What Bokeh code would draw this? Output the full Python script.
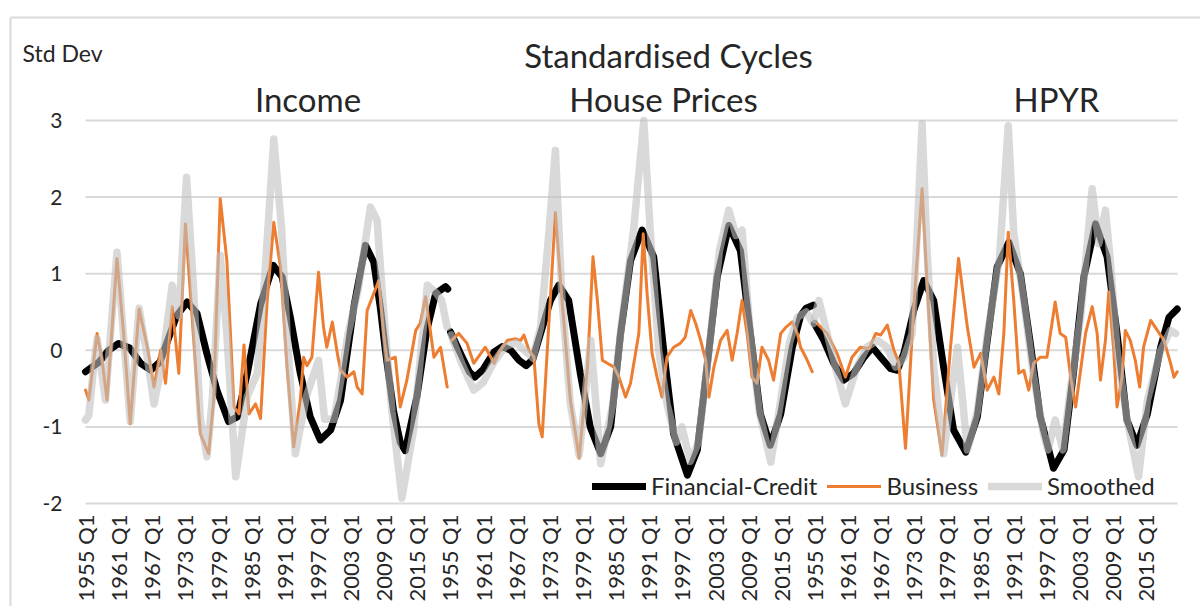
import numpy as np
from bokeh.plotting import figure
from bokeh.models import Range1d, Label, LabelSet, Legend, LegendItem, ColumnDataSource
from bokeh.core.properties import value
from bokeh.embed import file_html
from bokeh.resources import INLINE

# ---------------- data ----------------
PANEL_NAMES = ["Income", "House Prices", "HPYR"]
TICK_YEARS = [1955, 1961, 1967, 1973, 1979, 1985, 1991, 1997, 2003, 2009, 2015]
QUARTERS_PER_PANEL = 264   # 1955 Q1 .. 2020 Q4
START_YEAR = 1955
Y_TICKS = [-2, -1, 0, 1, 2, 3]
Y_LABELS = ["-2", "-1", "0", "1", "2", "3"]

# ---- Income ----
INC_FC_YR = [1955.0, 1957.5, 1959.2, 1961.0, 1963.0, 1965.0, 1966.8, 1968.5, 1970.0, 1971.5,
             1973.4, 1975.2, 1977.0, 1978.8, 1980.9, 1982.5, 1984.3, 1986.7, 1989.0, 1990.6,
             1992.1, 1993.9, 1995.7, 1997.5, 1999.4, 2001.2, 2003.6, 2005.7, 2007.2, 2008.4,
             2009.3, 2010.8, 2012.0, 2012.9, 2015.0, 2016.8, 2018.4, 2020.2, 2020.6]
INC_FC_VAL = [-0.28, -0.15, 0.0, 0.09, 0.03, -0.17, -0.26, -0.15, 0.15, 0.45,
              0.63, 0.48, -0.05, -0.52, -0.93, -0.87, -0.3, 0.6, 1.11, 0.96,
              0.43, -0.30, -0.87, -1.17, -1.04, -0.65, 0.57, 1.37, 1.15, 0.55,
              0.0, -0.8, -1.2, -1.31, -0.61, 0.26, 0.74, 0.83, 0.80]

INC_BUS_YR = [1955.0, 1955.6, 1957.1, 1958.0, 1958.9, 1960.7, 1961.9, 1963.1, 1964.7, 1966.2,
              1967.4, 1968.6, 1969.5, 1970.7, 1971.9, 1973.1, 1974.6, 1975.8, 1977.3, 1978.2,
              1979.4, 1980.6, 1981.9, 1982.8, 1983.7, 1984.6, 1985.8, 1986.7, 1987.9, 1989.1,
              1990.3, 1991.5, 1992.7, 1993.9, 1994.5, 1995.1, 1996.0, 1997.2, 1998.1, 1998.7,
              1999.7, 2000.6, 2001.2, 2002.4, 2003.6, 2004.2, 2005.1, 2006.0, 2007.2, 2008.1,
              2009.0, 2009.6, 2011.1, 2012.0, 2013.2, 2014.8, 2015.6, 2016.6, 2018.1, 2019.3,
              2020.5]
INC_BUS_VAL = [-0.52, -0.65, 0.22, -0.13, -0.65, 1.20, 0.22, -0.96, 0.54, 0.04,
               -0.48, 0.0, -0.43, 0.57, -0.30, 1.65, 0.13, -1.09, -1.35, -0.65,
               1.98, 1.17, -0.74, -0.83, 0.07, -0.83, -0.70, -0.89, 0.65, 1.67,
               1.09, -0.22, -1.26, -0.65, -0.09, -0.20, -0.09, 1.02, 0.30, 0.04,
               0.37, -0.04, -0.26, -0.35, -0.28, -0.48, -0.57, 0.52, 0.74, 0.91,
               0.22, -0.13, -0.09, -0.74, -0.39, 0.26, 0.35, 0.70, -0.09, 0.04,
               -0.48]

INC_SM_YR = [1955.0, 1955.6, 1956.5, 1957.1, 1958.6, 1960.7, 1963.1, 1964.7, 1966.0, 1967.4,
             1968.8, 1970.7, 1971.9, 1973.3, 1974.5, 1975.8, 1977.0, 1978.0, 1979.4, 1980.6,
             1982.2, 1983.5, 1984.3, 1986.1, 1987.5, 1989.1, 1990.5, 1991.5, 1993.0, 1995.0,
             1997.2, 1998.3, 2000.0, 2001.2, 2002.5, 2004.4, 2006.6, 2007.8, 2009.0, 2010.5,
             2012.3, 2014.4, 2016.9, 2018.5, 2019.5, 2020.5]
INC_SM_VAL = [-0.91, -0.85, -0.2, 0.15, -0.65, 1.28, -0.93, 0.55, 0.0, -0.70,
              -0.2, 0.85, 0.45, 2.26, 0.9, -0.9, -1.39, -0.6, 1.24, 0.2,
              -1.65, -1.0, -0.6, -0.3, 1.0, 2.76, 1.6, 0.2, -1.35, -0.6,
              -0.13, -0.9, -0.9, -0.4, 0.2, 0.8, 1.87, 1.7, 0.5, -0.8,
              -1.93, -1.04, 0.85, 0.75, 0.65, 0.3]

# ---- House Prices ----
HP_FC_YR = [1955.1, 1956.9, 1958.5, 1959.5, 1961.0, 1963.0, 1964.5, 1966.0, 1967.5, 1968.8,
            1970.0, 1971.4, 1973.2, 1974.7, 1976.5, 1978.6, 1980.4, 1982.3, 1984.1, 1985.9,
            1987.7, 1989.8, 1991.9, 1993.7, 1995.5, 1998.0, 1999.8, 2001.9, 2003.4, 2005.5,
            2007.6, 2009.4, 2011.2, 2013.0, 2014.9, 2017.0, 2018.5, 2019.5, 2020.8]
HP_FC_VAL = [0.24, -0.04, -0.28, -0.35, -0.25, -0.02, 0.05, 0.0, -0.13, -0.20,
             -0.12, 0.22, 0.65, 0.85, 0.65, -0.30, -1.00, -1.35, -1.00, 0.22,
             1.17, 1.57, 1.22, 0.0, -1.09, -1.63, -1.30, 0.0, 0.96, 1.63,
             1.30, 0.22, -0.83, -1.24, -0.83, 0.04, 0.45, 0.55, 0.59]

HP_BUS_YR = [1955.3, 1956.6, 1958.1, 1959.3, 1961.4, 1963.0, 1963.9, 1965.4, 1966.9, 1967.8,
             1968.4, 1969.3, 1970.2, 1971.1, 1971.7, 1974.1, 1975.3, 1976.8, 1978.4, 1979.9,
             1980.9, 1981.7, 1982.6, 1983.5, 1984.7, 1985.6, 1986.8, 1987.7, 1989.2, 1990.0,
             1990.7, 1991.6, 1992.5, 1993.4, 1994.3, 1995.5, 1996.7, 1997.6, 1998.6, 1999.5,
             2000.4, 2001.3, 2001.9, 2002.8, 2004.0, 2005.2, 2006.1, 2007.0, 2007.9, 2008.8,
             2009.7, 2010.6, 2011.5, 2012.7, 2013.6, 2014.9, 2015.8, 2017.0, 2017.9, 2018.5,
             2019.5, 2020.6]
HP_BUS_VAL = [0.13, 0.22, 0.09, -0.17, 0.04, -0.17, -0.02, 0.13, 0.15, 0.13,
              0.20, 0.0, -0.09, -0.96, -1.13, 1.80, 0.65, -0.65, -1.41, -0.22,
              1.22, 0.65, -0.13, -0.17, -0.22, -0.35, -0.61, -0.43, 0.22, 1.52,
              0.74, -0.04, -0.35, -0.61, -0.09, 0.04, 0.09, 0.17, 0.52, 0.35,
              0.13, -0.13, -0.61, -0.22, 0.13, 0.26, -0.13, 0.22, 0.65, 0.22,
              -0.35, -0.43, 0.04, -0.13, -0.39, 0.22, 0.30, 0.37, 0.22, 0.04,
              -0.10, -0.28]

HP_SM_YR = [1955.2, 1957.0, 1959.3, 1961.0, 1963.0, 1965.0, 1967.0, 1968.5, 1970.0, 1971.4,
            1972.9, 1974.1, 1975.3, 1976.8, 1978.4, 1980.5, 1982.3, 1984.5, 1986.0, 1988.3,
            1990.1, 1991.3, 1992.8, 1994.3, 1996.0, 1997.0, 1998.5, 2000.0, 2001.9, 2003.8,
            2005.5, 2006.8, 2007.9, 2009.4, 2011.0, 2013.1, 2014.9, 2016.5, 2017.9, 2019.5,
            2020.8]
HP_SM_VAL = [0.2, -0.15, -0.52, -0.42, -0.15, 0.05, 0.1, 0.0, -0.1, 0.3,
             1.52, 2.61, 0.65, -0.7, -1.37, 0.13, -1.48, -0.7, 0.3, 1.6,
             3.0, 1.52, 0.0, -0.7, -1.2, -1.0, -1.45, -1.2, 0.0, 1.3,
             1.83, 1.5, 1.57, 0.2, -0.8, -1.46, -0.65, 0.1, 0.43, 0.5,
             0.35]

# ---- HPYR ----
HPYR_FC_YR = [1955.0, 1956.7, 1958.5, 1960.3, 1962.1, 1964.0, 1965.5, 1967.0, 1968.8, 1970.0,
              1971.2, 1973.0, 1974.8, 1976.6, 1978.4, 1980.2, 1982.4, 1984.5, 1986.3, 1988.1,
              1990.2, 1992.3, 1994.1, 1995.9, 1998.3, 2000.2, 2001.9, 2003.8, 2005.9, 2008.0,
              2009.8, 2011.6, 2013.4, 2015.3, 2017.7, 2019.2, 2020.7]
HPYR_FC_VAL = [0.35, 0.13, -0.17, -0.39, -0.30, -0.09, 0.04, -0.09, -0.24, -0.26,
               -0.04, 0.52, 0.91, 0.65, -0.22, -1.04, -1.33, -0.87, 0.13, 1.09,
               1.41, 1.0, 0.09, -0.87, -1.54, -1.30, -0.30, 0.96, 1.65, 1.22,
               0.22, -0.91, -1.24, -0.83, 0.04, 0.43, 0.54]

HPYR_BUS_YR = [1955.5, 1957.3, 1959.1, 1960.6, 1961.8, 1963.3, 1964.9, 1966.1, 1967.0, 1968.2,
               1969.4, 1970.3, 1971.5, 1973.0, 1974.5, 1975.4, 1976.6, 1978.1, 1979.6, 1981.1,
               1982.7, 1983.9, 1985.1, 1986.3, 1987.5, 1988.4, 1989.3, 1990.1, 1991.1, 1992.0,
               1992.9, 1993.8, 1994.7, 1995.9, 1997.1, 1998.6, 1999.5, 2000.5, 2001.4, 2002.3,
               2003.2, 2004.1, 2005.3, 2006.2, 2006.8, 2007.7, 2008.3, 2009.2, 2009.8, 2010.7,
               2011.3, 2012.2, 2013.1, 2013.9, 2014.6, 2015.9, 2017.1, 2018.3, 2019.5, 2020.1,
               2020.7]
HPYR_BUS_VAL = [0.35, 0.22, -0.04, -0.35, -0.09, 0.04, 0.02, 0.22, 0.20, 0.33,
                0.0, -0.17, -1.28, 0.57, 2.11, 0.87, -0.65, -1.37, 0.0, 1.20,
                0.30, -0.22, -0.04, -0.52, -0.35, -0.57, 0.22, 1.54, 0.65, -0.30,
                -0.26, -0.52, -0.17, -0.09, -0.09, 0.63, 0.22, 0.17, -0.35, -0.74,
                -0.26, 0.22, 0.57, 0.22, -0.39, 0.13, 0.76, 0.0, -0.74, -0.35,
                0.26, 0.13, -0.13, -0.48, 0.04, 0.39, 0.26, 0.13, -0.17, -0.35,
                -0.28]

HPYR_SM_YR = [1955.0, 1955.8, 1957.3, 1958.8, 1960.6, 1962.7, 1964.5, 1966.4, 1968.2, 1969.7,
              1971.2, 1972.7, 1973.6, 1974.5, 1975.4, 1976.6, 1978.4, 1980.9, 1982.7, 1984.5,
              1986.3, 1988.5, 1990.1, 1991.1, 1992.9, 1994.6, 1996.5, 1997.3, 1998.6, 2000.0,
              2001.2, 2003.2, 2005.3, 2006.5, 2007.7, 2008.6, 2009.8, 2011.6, 2013.7, 2015.3,
              2017.7, 2019.5, 2020.4]
HPYR_SM_VAL = [0.4, 0.65, 0.22, -0.22, -0.70, -0.22, 0.04, 0.13, 0.04, -0.22,
               -0.1, 0.22, 1.52, 2.96, 1.3, -0.22, -1.35, 0.04, -1.3, -0.8,
               0.2, 1.2, 2.93, 1.52, 0.65, -0.3, -1.1, -1.3, -0.91, -1.3,
               -0.6, 0.43, 2.11, 1.39, 1.83, 1.17, 0.0, -0.9, -1.65, -0.65,
               0.0, 0.26, 0.22]

FC_SERIES = [(INC_FC_YR, INC_FC_VAL), (HP_FC_YR, HP_FC_VAL), (HPYR_FC_YR, HPYR_FC_VAL)]
BUS_SERIES = [(INC_BUS_YR, INC_BUS_VAL), (HP_BUS_YR, HP_BUS_VAL), (HPYR_BUS_YR, HPYR_BUS_VAL)]
SM_SERIES = [(INC_SM_YR, INC_SM_VAL), (HP_SM_YR, HP_SM_VAL), (HPYR_SM_YR, HPYR_SM_VAL)]

# ---------------- layout constants (canvas pixels) ----------------
W, H = 1200, 606
PLOT_L, PLOT_R = 85, 1177    # x of first / last category
PLOT_T, PLOT_B = 120, 503    # y of the top (3) and bottom (-2) gridlines
N_CAT = 3 * QUARTERS_PER_PANEL
PX_X = (PLOT_R - PLOT_L) / (N_CAT - 1)
PX_Y = (PLOT_B - PLOT_T) / (Y_TICKS[-1] - Y_TICKS[0])

def sx(px):   # canvas x -> data x
    return (px - PLOT_L) / PX_X

def sy(py):   # canvas y -> data y
    return Y_TICKS[-1] + (PLOT_T - py) / PX_Y

def to_x(panel, years):
    return [panel * QUARTERS_PER_PANEL + (y - START_YEAR) * 4 for y in years]

FONT = "Lato"
TEXT_COLOR = "#262626"
GRID = "#d9d9d9"

p = figure(width=W, height=H, output_backend="svg", toolbar_location=None,
           x_range=Range1d(sx(0), sx(W)), y_range=Range1d(sy(H), sy(0)),
           x_axis_location=None, y_axis_location=None, min_border=0)
p.outline_line_color = None
p.background_fill_color = "white"
p.border_fill_color = "white"
p.xgrid.visible = False
p.ygrid.visible = False

# chart-area border (top and left edges)
p.segment(x0=[sx(10), sx(10)], y0=[sy(17), sy(17)], x1=[sx(W), sx(10)], y1=[sy(17), sy(H)],
          line_color=GRID, line_width=2)

# horizontal gridlines
p.segment(x0=[0] * len(Y_TICKS), x1=[N_CAT - 1] * len(Y_TICKS), y0=Y_TICKS, y1=Y_TICKS,
          line_color=GRID, line_width=2)

# value-axis labels
ylab = ColumnDataSource(dict(x=[sx(PLOT_L - 23)] * len(Y_TICKS), y=Y_TICKS, text=Y_LABELS))
p.add_layout(LabelSet(x="x", y="y", text="text", source=ylab, text_align="right",
                      text_baseline="middle", text_font=value(FONT),
                      text_font_size=value("21px"), text_color=TEXT_COLOR))

# category-axis labels (every 24 quarters, rotated)
tick_pos, tick_txt = [], []
for k in range(3):
    for yr in TICK_YEARS:
        tick_pos.append(k * QUARTERS_PER_PANEL + (yr - START_YEAR) * 4)
        tick_txt.append(f"{yr} Q1")
xlab = ColumnDataSource(dict(x=tick_pos, y=[sy(PLOT_B + 11)] * len(tick_pos), text=tick_txt))
p.add_layout(LabelSet(x="x", y="y", text="text", source=xlab, angle=np.pi / 2,
                      text_align="right", text_baseline="middle", text_font=value(FONT),
                      text_font_size=value("22px"), text_color=TEXT_COLOR))

# lines
fc_r, bus_r, sm_r = [], [], []
for k, (yrs, vals) in enumerate(FC_SERIES):
    fc_r.append(p.line(to_x(k, yrs), vals, line_color="black", line_width=7,
                       line_join="round", line_cap="round"))
for k, (yrs, vals) in enumerate(BUS_SERIES):
    bus_r.append(p.line(to_x(k, yrs), vals, line_color="#ED7D31", line_width=3,
                        line_join="round", line_cap="round"))
for k, (yrs, vals) in enumerate(SM_SERIES):
    sm_r.append(p.line(to_x(k, yrs), vals, line_color="#bfbfbf", line_alpha=0.6, line_width=7.5,
                       line_join="round", line_cap="round"))

legend = Legend(items=[LegendItem(label="Financial-Credit", renderers=[fc_r[0]]),
                       LegendItem(label="Business", renderers=[bus_r[0]]),
                       LegendItem(label="Smoothed", renderers=[sm_r[0]])],
                location=(592, H - 500), orientation="horizontal",
                background_fill_alpha=0, border_line_alpha=0, padding=0, margin=0,
                spacing=10, glyph_width=54, glyph_height=24, label_height=24, label_standoff=5,
                label_text_font=FONT, label_text_font_size="24px", label_text_color=TEXT_COLOR)
p.add_layout(legend)

# texts
p.add_layout(Label(x=sx(668), y=sy(54), text="Standardised Cycles", text_align="center",
                   text_baseline="middle", text_font=FONT, text_font_size="33px",
                   text_color=TEXT_COLOR))
for cx, name in zip([307.5, 663, 1056], PANEL_NAMES):
    p.add_layout(Label(x=sx(cx), y=sy(98), text=name, text_align="center",
                       text_baseline="middle", text_font=FONT, text_font_size="33px",
                       text_color=TEXT_COLOR))
p.add_layout(Label(x=sx(22), y=sy(52), text="Std Dev", text_align="left",
                   text_baseline="middle", text_font=FONT, text_font_size="23px",
                   text_color=TEXT_COLOR))

open("out.html", "w").write(file_html(p, INLINE))
